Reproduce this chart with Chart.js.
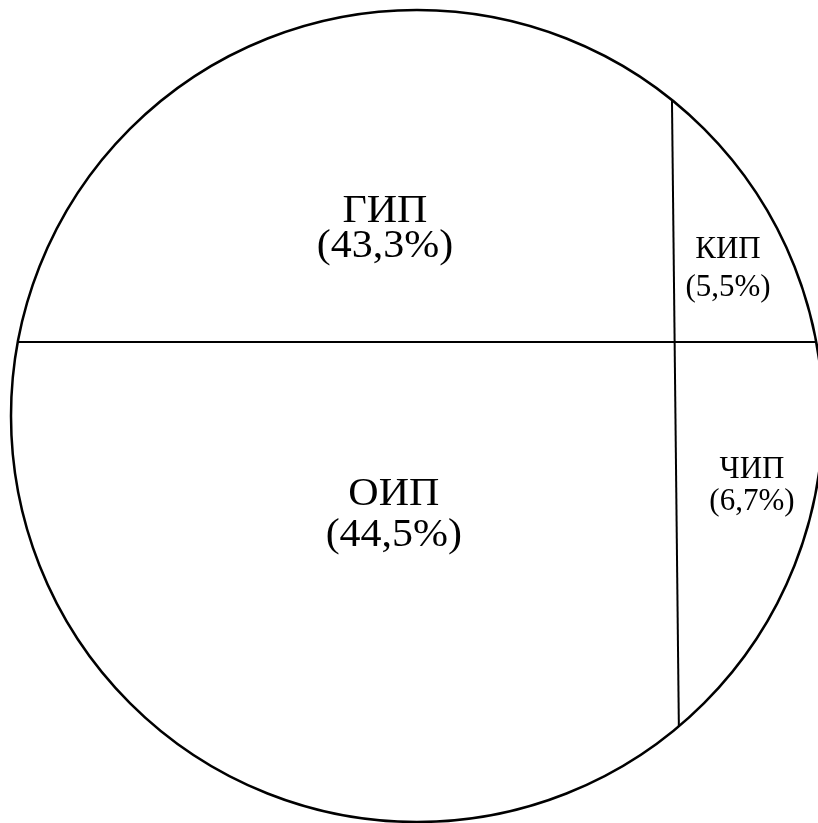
<!DOCTYPE html>
<html>
<head>
<meta charset="utf-8">
<script src="https://cdn.jsdelivr.net/npm/chart.js@4"></script>
<style>
  html, body { margin: 0; padding: 0; background: #ffffff; }
  canvas { display: block; }
</style>
</head>
<body>
<canvas id="c" width="818" height="823"></canvas>
<script>
// Structure of the index: four components and their shares, %
const categories = ['ГИП', 'КИП', 'ОИП', 'ЧИП'];
const shares = [43.3, 5.5, 44.5, 6.7];

// Geometry in unit-circle coordinates (centre 0,0, radius 1)
const hDividerY = 0.182;             // horizontal chord
const vDividerTopX = 0.628;          // vertical chord, upper end
const vDividerBottomX = 0.645;       // vertical chord, lower end

// Label anchors: centre x, baselines of the name line and the share line
const labelLayout = {
  'ГИП': { x: -0.079, y1: 0.478, y2: 0.392, size: 40, stretch: 1.05 },
  'КИП': { x: 0.766, y1: 0.389, y2: 0.296, size: 31, stretch: 1 },
  'ОИП': { x: -0.057, y1: -0.219, y2: -0.320, size: 40, stretch: 1.05 },
  'ЧИП': { x: 0.825, y1: -0.153, y2: -0.232, size: 31, stretch: 1 }
};

const onCircle = (x, sign) => sign * Math.sqrt(1 - x * x);
const hx = Math.sqrt(1 - hDividerY * hDividerY);

const lineStyle = {
  type: 'line', showLine: true, borderColor: '#000', borderWidth: 2,
  pointRadius: 0, pointHoverRadius: 0, fill: false, tension: 0, order: 0
};

const labelsPlugin = {
  id: 'segmentLabels',
  afterDatasetsDraw(chart) {
    const { ctx, scales: { x, y } } = chart;
    categories.forEach((name, i) => {
      const L = labelLayout[name];
      const px = x.getPixelForValue(L.x);
      ctx.save();
      ctx.fillStyle = '#000';
      ctx.textAlign = 'center';
      ctx.textBaseline = 'alphabetic';
      ctx.font = L.size + 'px "Liberation Serif", "Times New Roman", serif';
      ctx.translate(px, 0);
      ctx.scale(L.stretch, 1);
      ctx.fillText(name, 0, y.getPixelForValue(L.y1));
      ctx.fillText('(' + shares[i].toFixed(1).replace('.', ',') + '%)', 0, y.getPixelForValue(L.y2));
      ctx.restore();
    });
  }
};

const unitRadius = (ctx) => {
  const s = ctx.chart.scales.x;
  return Math.abs(s.getPixelForValue(1) - s.getPixelForValue(0));
};

new Chart(document.getElementById('c'), {
  type: 'scatter',
  data: {
    datasets: [
      {
        // outline of the whole index
        data: [{ x: 0, y: 0 }],
        backgroundColor: 'rgba(0,0,0,0)',
        borderColor: '#000',
        borderWidth: 2.5,
        pointStyle: 'circle',
        pointRadius: unitRadius,
        pointHoverRadius: unitRadius,
        clip: false,
        order: 2
      },
      Object.assign({}, lineStyle, {
        data: [{ x: -hx, y: hDividerY }, { x: hx, y: hDividerY }]
      }),
      Object.assign({}, lineStyle, {
        data: [
          { x: vDividerTopX, y: onCircle(vDividerTopX, 1) },
          { x: vDividerBottomX, y: onCircle(vDividerBottomX, -1) }
        ]
      })
    ]
  },
  options: {
    responsive: false,
    animation: false,
    events: [],
    layout: { padding: 0 },
    scales: {
      x: { type: 'linear', min: -1.0271, max: 0.9877, display: false },
      y: { type: 'linear', min: -1.0025, max: 1.0246, display: false }
    },
    plugins: {
      legend: { display: false },
      tooltip: { enabled: false }
    }
  },
  plugins: [labelsPlugin]
});
</script>
</body>
</html>
